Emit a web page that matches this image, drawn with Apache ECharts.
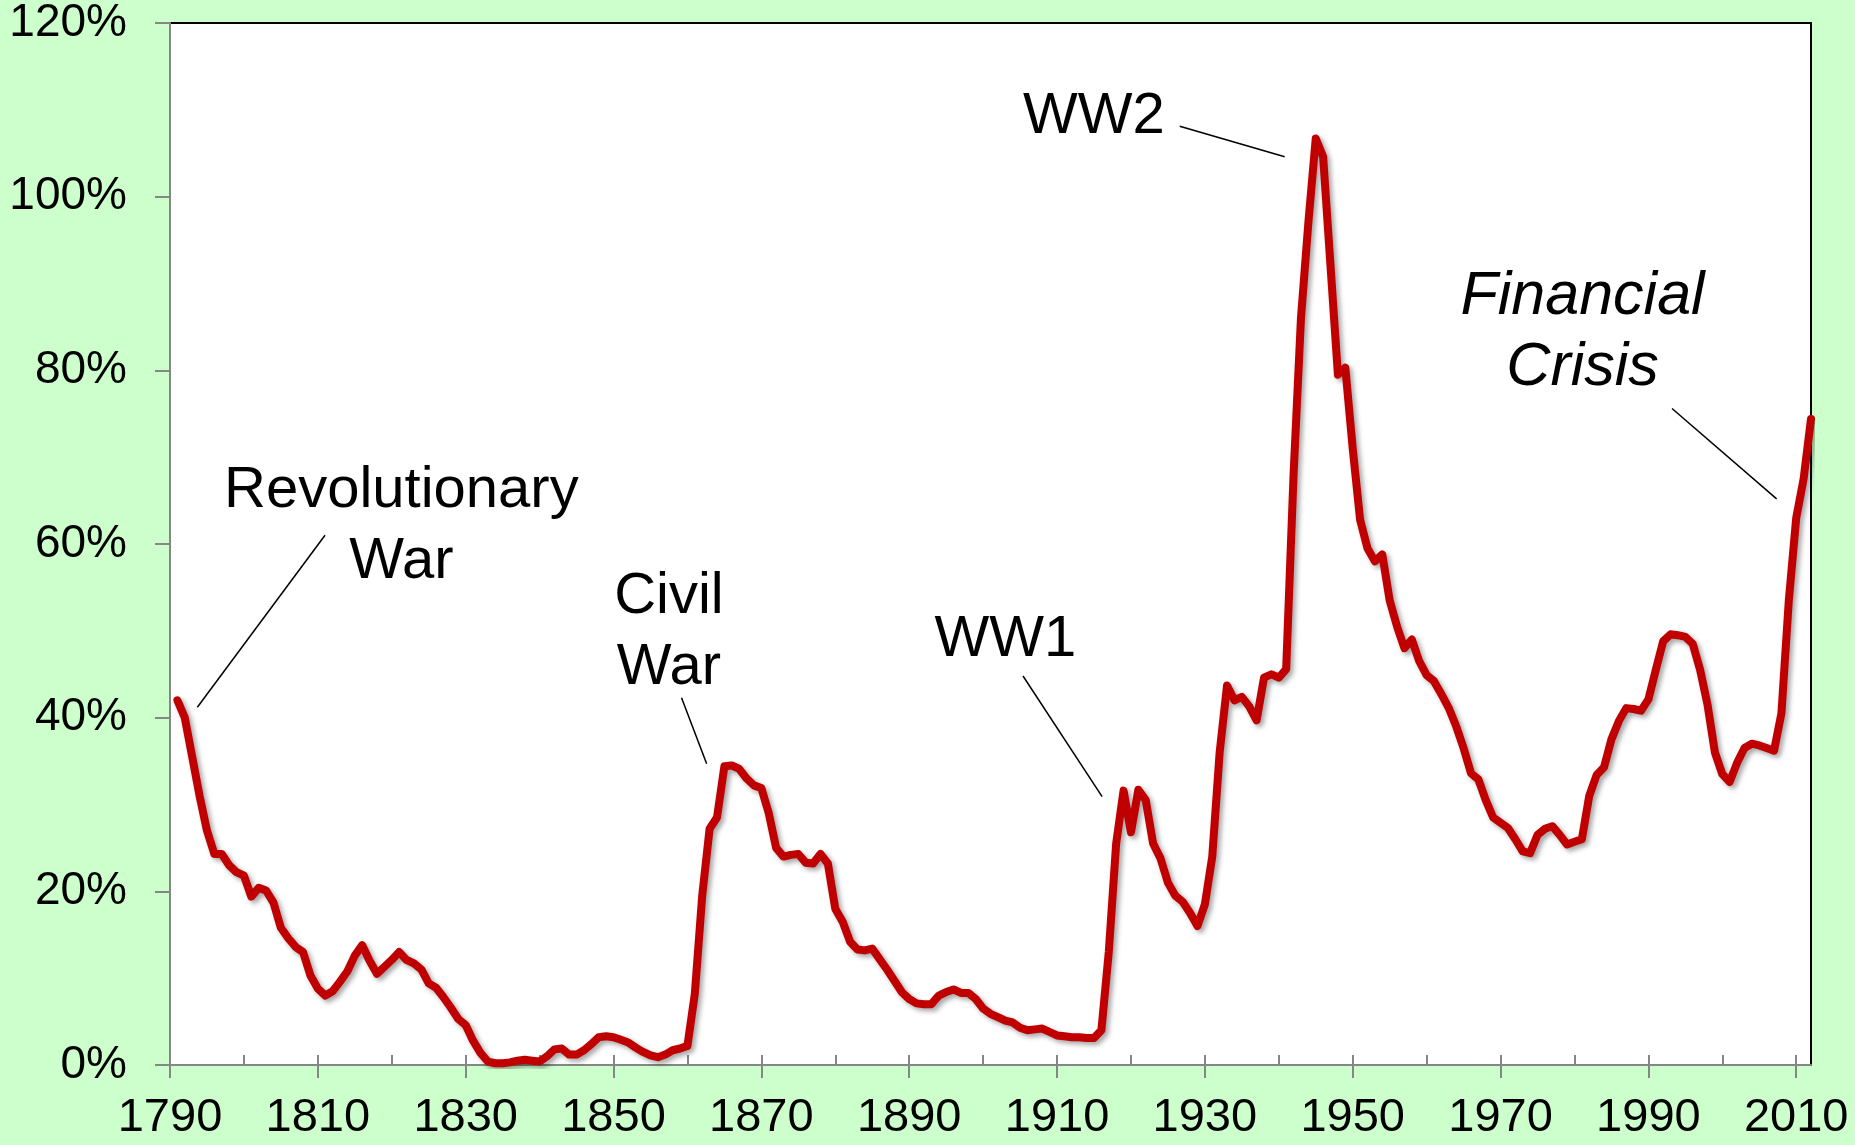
<!DOCTYPE html>
<html>
<head>
<meta charset="utf-8">
<script src="https://cdn.jsdelivr.net/npm/echarts@6/dist/echarts.min.js"></script>
<style>
html,body{margin:0;padding:0;background:#CCFFCC;}
#chart{width:1855px;height:1145px;}
</style>
</head>
<body>
<div id="chart"></div>
<script>
// ---- data ----
const years = [
  1791,1792,1793,1794,1795,1796,1797,1798,1799,1800,
  1801,1802,1803,1804,1805,1806,1807,1808,1809,1810,
  1811,1812,1813,1814,1815,1816,1817,1818,1819,1820,
  1821,1822,1823,1824,1825,1826,1827,1828,1829,1830,
  1831,1832,1833,1834,1835,1836,1837,1838,1839,1840,
  1841,1842,1843,1844,1845,1846,1847,1848,1849,1850,
  1851,1852,1853,1854,1855,1856,1857,1858,1859,1860,
  1861,1862,1863,1864,1865,1866,1867,1868,1869,1870,
  1871,1872,1873,1874,1875,1876,1877,1878,1879,1880,
  1881,1882,1883,1884,1885,1886,1887,1888,1889,1890,
  1891,1892,1893,1894,1895,1896,1897,1898,1899,1900,
  1901,1902,1903,1904,1905,1906,1907,1908,1909,1910,
  1911,1912,1913,1914,1915,1916,1917,1918,1919,1920,
  1921,1922,1923,1924,1925,1926,1927,1928,1929,1930,
  1931,1932,1933,1934,1935,1936,1937,1938,1939,1940,
  1941,1942,1943,1944,1945,1946,1947,1948,1949,1950,
  1951,1952,1953,1954,1955,1956,1957,1958,1959,1960,
  1961,1962,1963,1964,1965,1966,1967,1968,1969,1970,
  1971,1972,1973,1974,1975,1976,1977,1978,1979,1980,
  1981,1982,1983,1984,1985,1986,1987,1988,1989,1990,
  1991,1992,1993,1994,1995,1996,1997,1998,1999,2000,
  2001,2002,2003,2004,2005,2006,2007,2008,2009,2010,
  2011,2012
];
const debtPct = [
  42.0,40.0,35.5,31.0,27.0,24.3,24.3,23.0,22.2,21.8,
  19.4,20.4,20.1,18.7,15.8,14.6,13.6,13.0,10.3,8.8,
  8.0,8.5,9.6,10.8,12.6,13.8,12.0,10.5,11.3,12.1,
  13.0,12.1,11.7,11.0,9.4,8.9,7.8,6.6,5.3,4.6,
  2.8,1.4,0.4,0.2,0.2,0.3,0.5,0.6,0.5,0.4,
  1.0,1.8,1.9,1.2,1.2,1.7,2.4,3.2,3.3,3.2,
  2.9,2.6,2.0,1.5,1.1,0.9,1.2,1.7,1.9,2.2,
  8.2,19.5,27.2,28.5,34.4,34.5,34.1,33.0,32.2,31.9,
  29.0,25.0,24.0,24.2,24.3,23.3,23.2,24.3,23.2,18.0,
  16.5,14.2,13.3,13.2,13.4,12.2,11.0,9.7,8.4,7.6,
  7.1,7.0,7.0,8.0,8.4,8.7,8.3,8.3,7.6,6.5,
  5.9,5.5,5.1,4.9,4.3,4.0,4.1,4.2,3.8,3.4,
  3.3,3.2,3.2,3.1,3.1,4.0,13.0,25.5,31.6,26.8,
  31.7,30.5,25.5,23.8,21.0,19.5,18.8,17.5,16.0,18.5,
  24.0,36.0,43.7,42.0,42.4,41.3,39.7,44.6,45.0,44.6,
  45.6,68.0,86.0,97.0,106.7,104.6,92.0,79.5,80.3,71.0,
  62.8,59.5,58.0,58.8,53.5,50.5,48.0,49.0,46.5,44.9,
  44.2,42.7,41.1,39.0,36.5,33.6,32.9,30.5,28.5,27.9,
  27.3,26.0,24.6,24.4,26.5,27.2,27.5,26.5,25.4,25.7,
  26.0,31.0,33.4,34.3,37.5,39.6,41.1,41.0,40.8,42.1,
  45.5,48.8,49.6,49.5,49.3,48.5,45.5,41.5,36.0,33.5,
  32.6,34.8,36.5,37.0,36.8,36.5,36.2,40.5,53.5,63.0,
  67.5,74.4
];
// axis tick / label values
const xMajorTicks = [1790,1810,1830,1850,1870,1890,1910,1930,1950,1970,1990,2010];
const xMinorTicks = [1790,1800,1810,1820,1830,1840,1850,1860,1870,1880,1890,1900,1910,1920,1930,1940,1950,1960,1970,1980,1990,2000,2010];

// annotations (data coordinates)
const annoText   = ['Revolutionary\nWar','Civil\nWar','WW1','WW2','Financial\nCrisis'];
const annoItalic = [false,false,false,false,true];
const annoYear   = [1821.3,1857.5,1903.0,1915.0,1981.1];
const annoValue  = [62.0,49.8,48.9,109.2,84.4];
const leaderFrom = [[1810.97,61.0],[1859.2,42.3],[1905.4,44.8],[1926.6,108.1],[1993.2,75.6]];
const leaderTo   = [[1793.7,41.2],[1862.6,34.7],[1916.1,30.9],[1940.8,104.6],[2007.35,65.2]];

// ---- chart ----
const FONT = "'Liberation Sans', Arial, Helvetica, sans-serif";
const chart = echarts.init(document.getElementById('chart'), null, {renderer:'canvas'});
const lineData = years.map((y,i)=>[y, debtPct[i]]);
const annoData = annoText.map((t,i)=>({
  value:[annoYear[i], annoValue[i]],
  label:{formatter:t, fontStyle: annoItalic[i] ? 'italic' : 'normal', fontSize: annoItalic[i] ? 61 : 58}
}));
const leaderData = leaderFrom.map((f,i)=>({coords:[f, leaderTo[i]]}));

chart.setOption({
  animation:false,
  backgroundColor:'#CCFFCC',
  textStyle:{fontFamily:FONT},
  grid:{left:170, top:21, right:44, bottom:80, show:true, backgroundColor:'#FFFFFF', borderColor:'#000000', borderWidth:2},
  xAxis:[{
    type:'value', min:1790, max:2012, interval:10,
    axisLine:{show:true, lineStyle:{color:'#868686', width:2}},
    axisTick:{show:true, inside:true, length:10, customValues:xMinorTicks, lineStyle:{color:'#868686', width:2}},
    axisLabel:{show:true, customValues:xMajorTicks, margin:30, color:'#000', fontSize:47, fontFamily:FONT,
      formatter:v=>String(v)},
    splitLine:{show:false}
  },{
    type:'value', min:1790, max:2012, interval:10, position:'bottom',
    axisLine:{show:false},
    axisTick:{show:true, inside:false, length:13, customValues:xMajorTicks, lineStyle:{color:'#868686', width:2}},
    axisLabel:{show:false},
    splitLine:{show:false}
  }],
  yAxis:{
    type:'value', min:0, max:120, interval:20,
    axisLine:{show:true, lineStyle:{color:'#868686', width:2}},
    axisTick:{show:true, inside:false, length:15, lineStyle:{color:'#868686', width:2}},
    axisLabel:{margin:43, color:'#000', fontSize:46, fontFamily:FONT, formatter:'{value}%'},
    splitLine:{show:false}
  },
  series:[{
    type:'line', xAxisIndex:0, data:lineData, symbol:'none', smooth:false,
    lineStyle:{color:'#C00000', width:8, join:'round', cap:'round',
      shadowColor:'rgba(0,0,0,0.35)', shadowBlur:5, shadowOffsetX:3, shadowOffsetY:3},
    z:3
  },{
    type:'lines', coordinateSystem:'cartesian2d', xAxisIndex:0, data:leaderData,
    lineStyle:{color:'#000', width:1.5, opacity:1}, symbol:'none', z:4
  },{
    type:'scatter', xAxisIndex:0, data:annoData, symbolSize:0, silent:true,
    itemStyle:{color:'#000', opacity:1},
    label:{show:true, position:'inside', color:'#000000', opacity:1, fontSize:58, lineHeight:71, fontFamily:FONT,
      align:'center', verticalAlign:'middle', textBorderWidth:0, textBorderColor:'transparent', textShadowBlur:0},
    z:5
  }]
});
</script>
</body>
</html>
